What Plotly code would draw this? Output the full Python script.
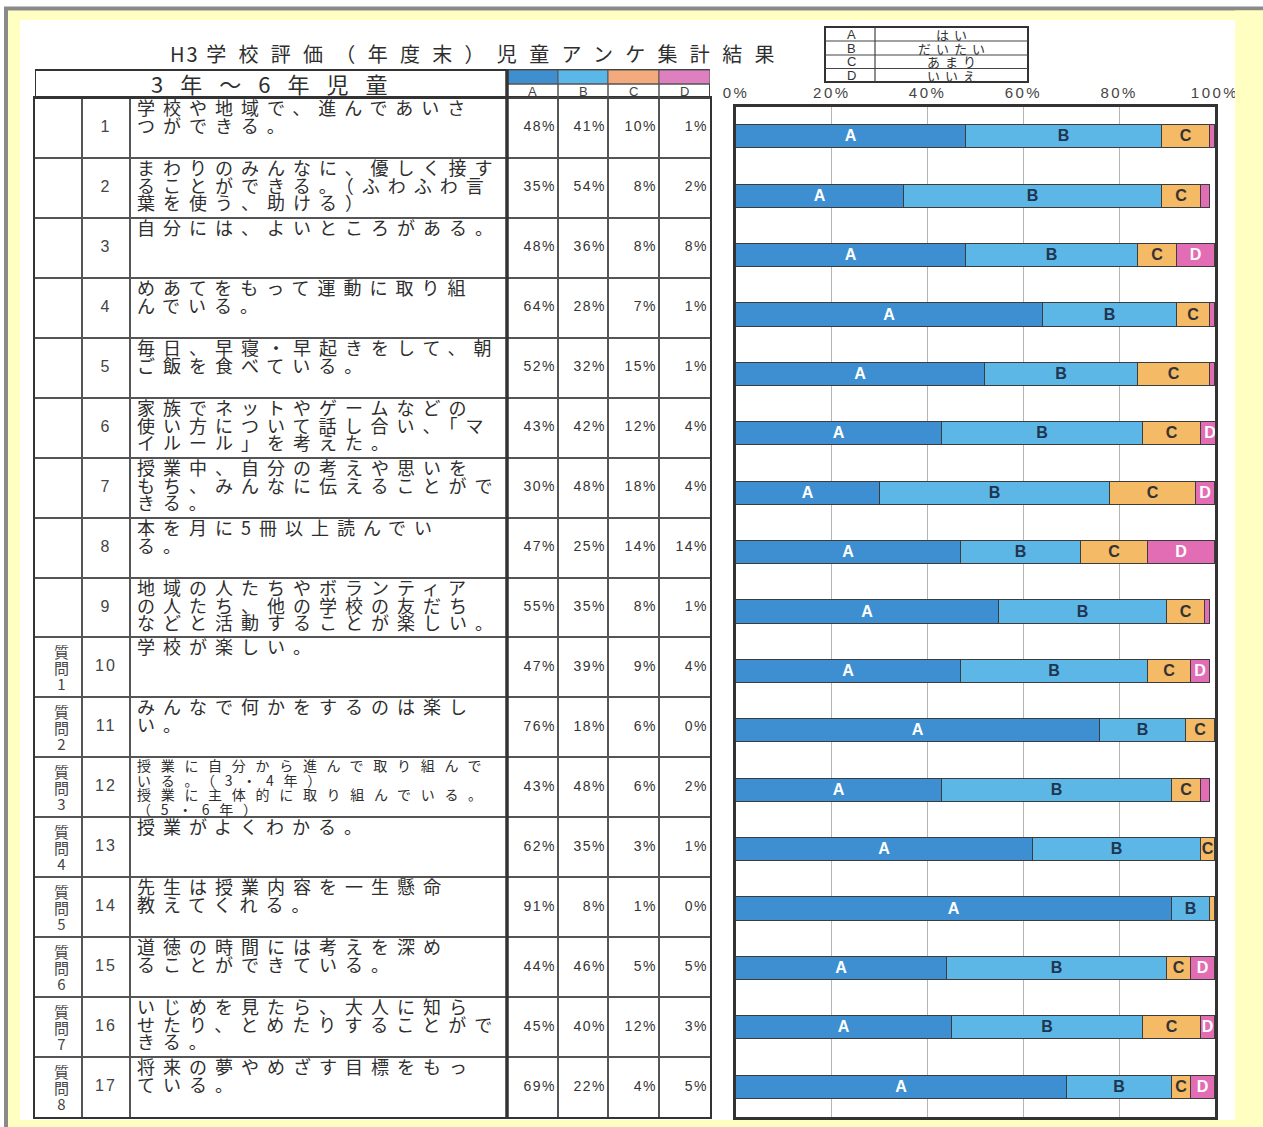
import plotly.graph_objects as go

# ---------------- data ----------------
categories = ["A", "B", "C", "D"]
legend_words = ["はい", "だいたい", "あまり", "いいえ"]
title_prefix = "H3"
title_text = "学校評価（年度末）児童アンケ集計結果"
header_text = "3年～6年児童"
question_numbers = list(range(1, 18))
group_labels = [""] * 9 + ["質問1", "質問2", "質問3", "質問4", "質問5", "質問6", "質問7", "質問8"]
questions = [
    ["学校や地域で、進んであいさ", "つができる。"],
    ["まわりのみんなに、優しく接す", "ることができる。（ふわふわ言", "葉を使う、助ける）"],
    ["自分には、よいところがある。"],
    ["めあてをもって運動に取り組", "んでいる。"],
    ["毎日、早寝・早起きをして、朝", "ご飯を食べている。"],
    ["家族でネットやゲームなどの", "使い方について話し合い、「マ", "イルール」を考えた。"],
    ["授業中、自分の考えや思いを", "もち、みんなに伝えることがで", "きる。"],
    ["本を月に5冊以上読んでい", "る。"],
    ["地域の人たちやボランティア", "の人たち、他の学校の友だち", "などと活動することが楽しい。"],
    ["学校が楽しい。"],
    ["みんなで何かをするのは楽し", "い。"],
    ["授業に自分から進んで取り組んで", "いる。（3・4年）", "授業に主体的に取り組んでいる。", "（5・6年）"],
    ["授業がよくわかる。"],
    ["先生は授業内容を一生懸命", "教えてくれる。"],
    ["道徳の時間には考えを深め", "ることができている。"],
    ["いじめを見たら、大人に知ら", "せたり、とめたりすることがで", "きる。"],
    ["将来の夢やめざす目標をもっ", "ている。"],
]
vals_A = [48, 35, 48, 64, 52, 43, 30, 47, 55, 47, 76, 43, 62, 91, 44, 45, 69]
vals_B = [41, 54, 36, 28, 32, 42, 48, 25, 35, 39, 18, 48, 35, 8, 46, 40, 22]
vals_C = [10, 8, 8, 7, 15, 12, 18, 14, 8, 9, 6, 6, 3, 1, 5, 12, 4]
vals_D = [1, 2, 8, 1, 1, 4, 4, 14, 1, 4, 0, 2, 1, 0, 5, 3, 5]
tick_vals = [0, 20, 40, 60, 80, 100]
tick_labels = ["0%", "20%", "40%", "60%", "80%", "100%"]

# ---------------- layout constants ----------------
W, H = 1263, 1127
COL_EDGES = [0, 47, 95, 472, 523, 573, 624, 675]
COLORS = ["#3D8FD1", "#5CB7E7", "#F5BA66", "#E26DB4"]
SWATCH_COLORS = ["#3F8FD0", "#5AB8E8", "#F3AA7C", "#DE7FC0"]
LABEL_COLORS = ["#ffffff", "#1f3550", "#333333", "#ffffff"]
JP = "Noto Sans CJK JP"
LAT = "Liberation Sans"
INK = "#2e2e2e"
GRID = "#555555"
YELLOW = "#FFFFC2"


def fx(p):
    return p / W


def fy(p):
    return 1 - p / H


def ls(text, px, size=None):
    style = f"letter-spacing:{px}px"
    if size:
        style += f";font-size:{size}px"
    return f'<span style="{style}">{text}</span>'


idx = list(range(len(question_numbers)))
series = [vals_A, vals_B, vals_C, vals_D]

fig = go.Figure()

# stacked bars
for k, (cat, vals) in enumerate(zip(categories, series)):
    fig.add_trace(go.Bar(
        orientation="h", x=vals, y=idx, width=0.39,
        marker=dict(color=COLORS[k], line=dict(color="#3c3c3c", width=1)),
        text=[cat if v >= 3 else "" for v in vals],
        textposition="inside", insidetextanchor="middle", textangle=0,
        textfont=dict(family=LAT, size=17, color=LABEL_COLORS[k], weight="bold"),
        xaxis="x", yaxis="y", hoverinfo="skip", showlegend=False,
    ))

# table: row numbers
fig.add_trace(go.Scatter(
    x=[(COL_EDGES[1] + COL_EDGES[2]) / 2] * len(idx), y=idx, mode="text",
    text=[ls(str(n), 2) for n in question_numbers], textposition="middle center",
    textfont=dict(family=LAT, size=16, color="#444"),
    xaxis="x2", yaxis="y2", hoverinfo="skip", showlegend=False,
))

# table: percentages
for k, vals in enumerate(series):
    fig.add_trace(go.Scatter(
        x=[COL_EDGES[4 + k] - 2] * len(idx), y=idx, mode="text",
        text=[ls(f"{v}%", 1.5) for v in vals], textposition="middle left",
        textfont=dict(family=LAT, size=14, color="#333"),
        xaxis="x2", yaxis="y2", hoverinfo="skip", showlegend=False,
    ))

annotations = []
# question texts: one block per cell; line pitch set by the outer font size,
# glyph size by the inner span (tight line spacing as on the sheet)
for i, lines in enumerate(questions):
    small = len(lines) > 3
    glyph = 14 if small else 18
    spacing = 9.7 if small else 8
    pitch = 14.5 if small else 17.5
    annotations.append(dict(
        x=COL_EDGES[2] + 5, y=i - 0.5, xref="x2", yref="y2",
        xanchor="left", yanchor="top", align="left", yshift=6 if not small else 4,
        showarrow=False,
        text="<br>".join(ls(line, spacing, glyph) for line in lines),
        font=dict(family=JP, size=pitch / 1.3, color=INK),
    ))

# group labels (質 / 問 / n)
for i, g in enumerate(group_labels):
    if not g:
        continue
    parts = [g[0], g[1], g[2:]]
    annotations.append(dict(
        x=(COL_EDGES[0] + COL_EDGES[1]) / 2 + 3, y=i, xref="x2", yref="y2",
        xanchor="center", yanchor="middle", yshift=0, showarrow=False,
        text="<br>".join(ls(p, 0, 15) for p in parts),
        font=dict(family=JP, size=16 / 1.3, color="#444"),
    ))

# header texts
annotations.append(dict(
    x=(COL_EDGES[0] + COL_EDGES[3]) / 2 + 6, y=fy(83), xref="x2", yref="paper",
    xanchor="center", yanchor="middle", showarrow=False,
    text=ls(header_text, 17), font=dict(family=JP, size=22, color=INK),
))
for k, cat in enumerate(categories):
    annotations.append(dict(
        x=(COL_EDGES[3 + k] + COL_EDGES[4 + k]) / 2, y=fy(91.5), xref="x2", yref="paper",
        xanchor="center", yanchor="middle", showarrow=False,
        text=cat, font=dict(family=LAT, size=13, color="#444"),
    ))

# title
annotations.append(dict(
    x=fx(478), y=fy(54), xref="paper", yref="paper", xanchor="center", yanchor="middle",
    showarrow=False, text=ls(title_prefix + "\u00a0", 2) + ls(title_text, 12.3),
    font=dict(family=JP, size=20, color=INK),
))

# legend box texts
LEG_ROWS = [27, 41, 55, 68.5, 82]
for k, (cat, word) in enumerate(zip(categories, legend_words)):
    yc = (LEG_ROWS[k] + LEG_ROWS[k + 1]) / 2
    annotations.append(dict(x=fx(851), y=fy(yc), xref="paper", yref="paper",
                            xanchor="center", yanchor="middle", showarrow=False,
                            text=cat, font=dict(family=LAT, size=13, color="#333")))
    annotations.append(dict(x=fx(954), y=fy(yc), xref="paper", yref="paper",
                            xanchor="center", yanchor="middle", showarrow=False,
                            text=ls(word, 5), font=dict(family=JP, size=13, color="#333")))

shapes = []
# page background: yellow frame, white sheet, gray scan border
shapes.append(dict(type="rect", xref="paper", yref="paper", x0=fx(8), x1=1, y0=0, y1=fy(10),
                   fillcolor=YELLOW, line=dict(width=0), layer="below"))
shapes.append(dict(type="rect", xref="paper", yref="paper", x0=fx(20), x1=fx(1235), y0=fy(1120), y1=fy(20),
                   fillcolor="white", line=dict(width=0), layer="below"))
shapes.append(dict(type="line", xref="paper", yref="paper", x0=fx(4), x1=1, y0=fy(8.5), y1=fy(8.5),
                   line=dict(color="#8a8a8a", width=4), layer="below"))
shapes.append(dict(type="line", xref="paper", yref="paper", x0=fx(6), x1=fx(6), y0=0, y1=fy(7),
                   line=dict(color="#8a8a8a", width=4), layer="below"))
# clip strip on the right (covers overflowing 100% label, as on the scan)
shapes.append(dict(type="rect", xref="paper", yref="paper", x0=fx(1235), x1=1, y0=0, y1=fy(10.5),
                   fillcolor=YELLOW, line=dict(width=0), layer="above"))

# table header
shapes.append(dict(type="rect", xref="x2", yref="paper", x0=COL_EDGES[0], x1=COL_EDGES[-1],
                   y0=fy(98), y1=fy(70), line=dict(color="#333", width=2)))
for k in range(4):
    shapes.append(dict(type="rect", xref="x2", yref="paper", x0=COL_EDGES[3 + k], x1=COL_EDGES[4 + k],
                       y0=fy(84), y1=fy(70), fillcolor=SWATCH_COLORS[k], line=dict(color=GRID, width=1)))
    shapes.append(dict(type="rect", xref="x2", yref="paper", x0=COL_EDGES[3 + k], x1=COL_EDGES[4 + k],
                       y0=fy(98), y1=fy(84), line=dict(color=GRID, width=1)))
# thick divider between text and value columns
shapes.append(dict(type="line", xref="x2", yref="paper", x0=COL_EDGES[3], x1=COL_EDGES[3],
                   y0=fy(1117), y1=fy(70), line=dict(color="#333", width=3.5)))

# legend box
shapes.append(dict(type="rect", xref="paper", yref="paper", x0=fx(825), x1=fx(1028),
                   y0=fy(82), y1=fy(27), line=dict(color="#333", width=2)))
for yy in LEG_ROWS[1:-1]:
    shapes.append(dict(type="line", xref="paper", yref="paper", x0=fx(825), x1=fx(1028),
                       y0=fy(yy), y1=fy(yy), line=dict(color="#444", width=1.2)))
shapes.append(dict(type="line", xref="paper", yref="paper", x0=fx(875), x1=fx(875),
                   y0=fy(82), y1=fy(27), line=dict(color="#444", width=1.2)))

fig.update_layout(
    width=W, height=H, autosize=False,
    margin=dict(l=0, r=0, t=0, b=0, pad=0, autoexpand=False),
    paper_bgcolor="white", plot_bgcolor="white",
    barmode="stack", bargap=0,
    uniformtext=dict(minsize=16, mode="show"),
    showlegend=False,
    xaxis=dict(domain=[fx(736), fx(1215)], range=[0, 100], side="top",
               tickvals=tick_vals, ticktext=[ls(t, 2.5) for t in tick_labels],
               tickfont=dict(family=LAT, size=15, color="#444"), ticks="",
               ticklabelstandoff=0, automargin=False,
               showgrid=True, gridcolor="#b4b4b4", gridwidth=1,
               showline=True, mirror=True, linecolor="#333", linewidth=3,
               zeroline=False, fixedrange=True, anchor="y"),
    yaxis=dict(domain=[fy(1117), fy(107)], range=[16.5, -0.5],
               showticklabels=False, ticks="", showgrid=False, automargin=False,
               showline=True, mirror=True, linecolor="#333", linewidth=3,
               zeroline=False, fixedrange=True, anchor="x"),
    xaxis2=dict(domain=[fx(35), fx(710)], range=[COL_EDGES[0], COL_EDGES[-1]],
                tickvals=COL_EDGES[1:-1], showticklabels=False, ticks="", automargin=False,
                showgrid=True, gridcolor=GRID, gridwidth=1.5,
                showline=True, mirror=True, linecolor="#333", linewidth=2,
                zeroline=False, fixedrange=True, anchor="y2"),
    yaxis2=dict(domain=[fy(1117), fy(98)], range=[16.5, -0.5],
                tickvals=[i + 0.5 for i in idx[:-1]], showticklabels=False, ticks="", automargin=False,
                showgrid=True, gridcolor=GRID, gridwidth=1.5,
                showline=True, mirror=True, linecolor="#333", linewidth=2,
                zeroline=False, fixedrange=True, anchor="x2"),
    annotations=annotations,
    shapes=shapes,
)

fig.write_html("out.html", config={"displayModeBar": False},
               post_script="document.body.style.margin='0';")
